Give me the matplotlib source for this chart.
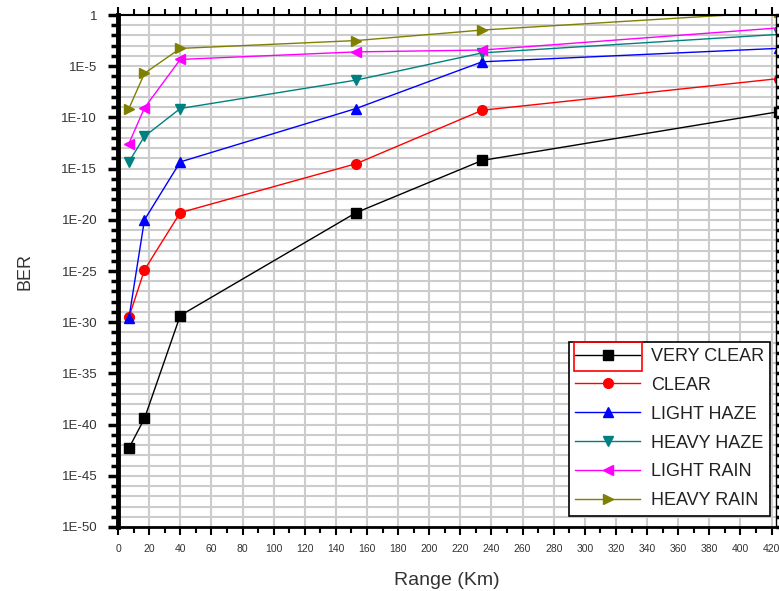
import numpy as np
import matplotlib
matplotlib.use('Agg')
import matplotlib.pyplot as plt
import matplotlib.patches as patches
from matplotlib.ticker import FixedLocator, MultipleLocator, NullFormatter

plt.rcParams['font.family'] = ['Liberation Sans', 'DejaVu Sans']

# range (km) of the sampled points, last one sits just past the right edge
range_km = [7, 17, 40, 153, 234, 425]

very_clear = [5e-43, 4e-40, 4.5e-30, 5e-20, 6.3e-15, 3.7e-10]
clear = [3e-30, 1.3e-25, 5e-20, 3e-15, 5e-10, 6.3e-07]
light_haze = [2.5e-30, 1e-20, 4.5e-15, 7.4e-10, 2.7e-05, 5.6e-04]
heavy_haze = [4.5e-15, 1.4e-12, 7.4e-10, 4.4e-07, 2e-04, 1.3e-02]
light_rain = [2.8e-13, 8.5e-10, 4.6e-05, 2.5e-04, 3.8e-04, 5.6e-02]
heavy_rain = [7.4e-10, 2e-06, 5.5e-04, 3.2e-03, 3.4e-02, 2.0]

names = ['VERY CLEAR', 'CLEAR', 'LIGHT HAZE', 'HEAVY HAZE', 'LIGHT RAIN', 'HEAVY RAIN']
series = [very_clear, clear, light_haze, heavy_haze, light_rain, heavy_rain]
colors = ['black', '#ff0000', '#0000ff', '#008080', '#ff00ff', '#808000']
markers = ['s', 'o', '^', 'v', '<', '>']

y_exps = np.arange(0, -51, -5)
y_labels = ['1'] + ['1E-%d' % -e for e in y_exps[1:]]

fig = plt.figure(figsize=(7.79, 5.91), dpi=100)
ax = fig.add_axes([0.1515, 0.1083, 0.845, 0.8663])

for vals, name, c, m in zip(series, names, colors, markers):
    ax.plot(range_km, vals, color=c, marker=m, markersize=7, linewidth=1,
            label=name)

ax.set_yscale('log')
ax.set_ylim(1e-50, 1)
ax.set_xlim(0, 423)

# ticks
ax.yaxis.set_major_locator(FixedLocator(10.0 ** y_exps))
ax.yaxis.set_minor_locator(FixedLocator(10.0 ** np.arange(0, -51, -1)))
ax.set_yticklabels(y_labels)
ax.yaxis.set_minor_formatter(NullFormatter())
ax.xaxis.set_major_locator(MultipleLocator(20))
ax.xaxis.set_minor_locator(MultipleLocator(10))

ax.tick_params(axis='y', which='major', length=7, width=2.5, labelsize=9.5,
               labelcolor='#333333', direction='out', right=True, pad=8)
ax.tick_params(axis='y', which='minor', length=5, width=2.5, direction='out',
               right=True)
ax.tick_params(axis='x', which='major', length=6, width=1.5, labelsize=7.5,
               labelcolor='#333333', direction='out', top=True, pad=6)
ax.tick_params(axis='x', which='minor', length=4, width=1.5, direction='out',
               top=True)

# grid
ax.grid(True, which='major', axis='x', color='#cccccc', linewidth=1.5)
ax.grid(True, which='both', axis='y', color='#cccccc', linewidth=1.5)
ax.set_axisbelow(True)

ax.spines['left'].set_linewidth(3.5)
ax.spines['bottom'].set_linewidth(2)
ax.spines['top'].set_linewidth(1.5)
ax.spines['right'].set_linewidth(1)

ax.set_xlabel('Range (Km)', fontsize=14, color='#333333', labelpad=13)
ax.set_ylabel('BER', fontsize=13, color='#333333', labelpad=20)

leg = ax.legend(loc='lower right', bbox_to_anchor=(0.991, 0.022), fontsize=13,
                handlelength=3.6, fancybox=False, edgecolor='black',
                framealpha=1, borderpad=0.35, labelspacing=0.66,
                handletextpad=0.6, borderaxespad=0)
leg.get_frame().set_linewidth(1.2)
for t in leg.get_texts():
    t.set_color('#222222')

# red selection box around the first legend entry
fig.canvas.draw()
tb = leg.get_texts()[0].get_window_extent()
inv = fig.transFigure.inverted()
x0, y0 = inv.transform((tb.x0 - 77, tb.y0 - 6))
x1, y1 = inv.transform((tb.x0 - 9, tb.y1 + 6))
fig.add_artist(patches.Rectangle((x0, y0), x1 - x0, y1 - y0, fill=False,
                                 edgecolor='#ff0000', linewidth=1.2,
                                 transform=fig.transFigure, zorder=10))

fig.savefig('out.png', dpi=100)
